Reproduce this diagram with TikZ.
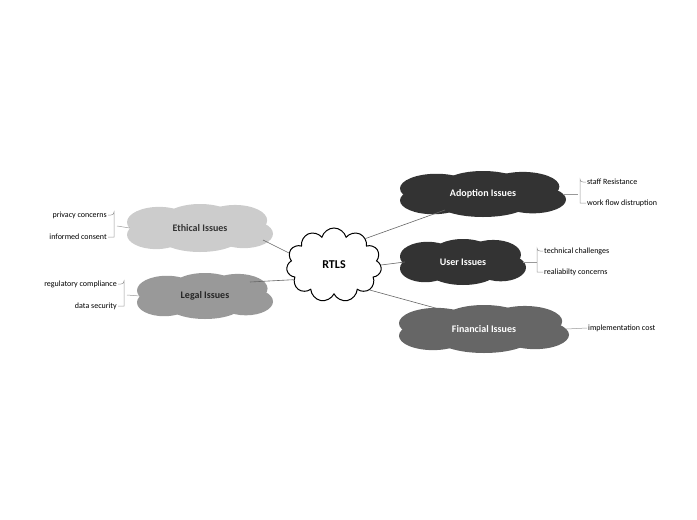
\documentclass[tikz,border=0pt]{standalone}
\usepackage{fontspec}
\setmainfont{Carlito}
\usetikzlibrary{shapes.symbols,calc}
\newcommand{\mycloud}[6]{% name x y w h color
 \begin{scope}[shift={(#2,#3)}]
 \fill[#6] (-0.28*#4,-0.12*#5) ellipse ({0.22*#4} and {0.32*#5});
 \fill[#6] (0.24*#4,-0.16*#5) ellipse ({0.22*#4} and {0.32*#5});
 \fill[#6] (0,-0.2*#5) ellipse ({0.24*#4} and {0.3*#5});
 \fill[#6] (-0.3*#4,0.14*#5) ellipse ({0.2*#4} and {0.3*#5});
 \fill[#6] (0.3*#4,0.12*#5) ellipse ({0.2*#4} and {0.3*#5});
 \fill[#6] (0,0.18*#5) ellipse ({0.28*#4} and {0.32*#5});
 \fill[#6] (0,0) ellipse ({0.46*#4} and {0.3*#5});
 \end{scope}
 \node[minimum width=#4,minimum height=#5,inner sep=0pt] (#1) at (#2,#3) {};}
\begin{document}
\begin{tikzpicture}[x=1pt,y=-1pt,
 lab/.style={font=\bfseries},
 br/.style={draw=gray!80,line width=0.5pt},
 leaf/.style={font=\footnotesize,inner sep=1pt},
 con/.style={draw=black!60,line width=0.6pt}]
\useasboundingbox (0,0) rectangle (697,520);
\mycloud{ad}{483}{194}{166}{46}{black!80}
\mycloud{us}{463}{262}{126}{46}{black!80}
\mycloud{fi}{484}{329}{170}{48}{black!60}
\mycloud{et}{200}{228}{146}{48}{black!20}
\mycloud{le}{205}{296}{136}{46}{black!40}
\node[lab,text=white] at (ad) {Adoption Issues};
\node[lab,text=white] at (us) {User Issues};
\node[lab,text=white] at (fi) {Financial Issues};
\node[lab,text=black!80] at (et) {Ethical Issues};
\node[lab,text=black!85] at (le) {Legal Issues};
\node[cloud,cloud puffs=11,cloud ignores aspect,inner sep=0pt,draw=black,line width=1pt,fill=white,minimum width=95,minimum height=74,font=\bfseries\large] (r) at (334,265) {RTLS};
\draw[con] (r.40) -- ($(ad.center)+(-38,16)$);
\draw[con] (r.east) -- ($(us.west)+(5,0)$);
\draw[con] (r.-35) -- ($(fi.center)+(-45,-20)$);
\draw[con] (r.165) -- ($(et.center)+(63,12)$);
\draw[con] (r.200) -- ($(le.center)+(45,-14)$);
% leaves
\node[leaf,anchor=west] (a1) at (586,182) {staff Resistance};
\node[leaf,anchor=west] (a2) at (586,203) {work flow distruption};
\node[leaf,anchor=west] (u1) at (543,251) {technical challenges};
\node[leaf,anchor=west] (u2) at (543,272) {realiabilty concerns};
\node[leaf,anchor=west] (f1) at (587,328) {implementation cost};
\node[leaf,anchor=east] (e1) at (108,215) {privacy concerns};
\node[leaf,anchor=east] (e2) at (108,237) {informed consent};
\node[leaf,anchor=east] (l1) at (118,284) {regulatory compliance};
\node[leaf,anchor=east] (l2) at (118,306) {data security};
\coordinate (ab) at (578,194);
\draw[br] ($(ad.east)+(-3,0)$) -- (ab);
\draw[br] (a1.west) -- ++(-3,0) arc (90:180:3) |- (a2.west);
\coordinate (ub) at (537,262);
\draw[br] ($(us.east)+(-3,0)$) -- (ub);
\draw[br] (u1.west) -- ++(-3,0) arc (90:180:3) |- (u2.west);
\draw[br] ($(fi.east)+(-3,0)$) -- (f1.west);
\coordinate (eb) at (117,226);
\draw[br] ($(et.west)+(3,0)$) -- (eb);
\draw[br] (e1.east) -- ++(3,0) arc (90:0:3) |- (e2.east);
\coordinate (lb) at (127,295);
\draw[br] ($(le.west)+(3,0)$) -- (lb);
\draw[br] (l1.east) -- ++(3,0) arc (90:0:3) |- (l2.east);
\end{tikzpicture}
\end{document}
